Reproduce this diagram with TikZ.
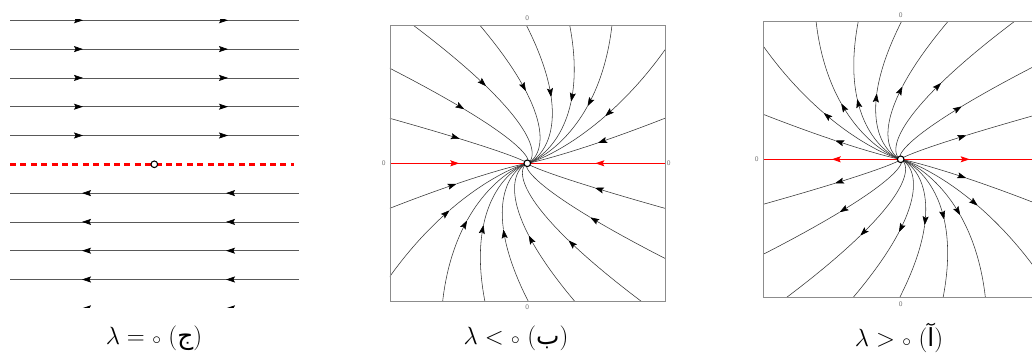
\documentclass[tikz,border=0pt]{standalone}
\usepackage{fontspec}
\newfontfamily\arabicfont[Script=Arabic]{DejaVu Sans}
\usetikzlibrary{arrows.meta}
\tikzset{
  tipk/.tip={Stealth[length=9pt,width=6pt,inset=1.6pt,color=black]},
  tipr/.tip={Stealth[length=9pt,width=6pt,inset=1.6pt,color=red]},
  stream/.style={draw=black!80, line width=0.55pt},
  framebox/.style={draw=black!45, line width=0.6pt},
  redln/.style={draw=red, line width=1pt},
  fixpt/.style={circle, draw=black, fill=white, line width=1.1pt, inner sep=0pt, minimum size=6.6pt},
  zlabel/.style={font=\fontsize{7}{8}\selectfont\sffamily, text=black!55, inner sep=0pt},
  caption/.style={font=\fontsize{24.88}{30}\selectfont, inner sep=0pt},
  hline/.style={draw=black!65, line width=0.7pt},
  dashred/.style={draw=red, line width=2.6pt, dash pattern=on 6pt off 4.4pt},
}
% trajectories of x'=lambda x + y, y'=lambda y  (x/y = C -+ 0.5 ln y)
\newcommand{\instream}[2]{%
  \draw[stream,-{tipk}] plot[domain=5.0:#2, samples=30, variable=\t] ({exp(\t)*(#1-0.5*\t)},{exp(\t)});
  \draw[stream] plot[domain=#2:-1.6, samples=60, variable=\t] ({exp(\t)*(#1-0.5*\t)},{exp(\t)});
}
\newcommand{\outstream}[2]{%
  \draw[stream,-{tipk}] plot[domain=-1.6:#2, samples=60, variable=\t] ({-exp(\t)*(#1-0.5*\t)},{exp(\t)});
  \draw[stream] plot[domain=#2:5.0, samples=30, variable=\t] ({-exp(\t)*(#1-0.5*\t)},{exp(\t)});
}
\newcommand{\pzero}{{\fontsize{19}{20}\selectfont$\circ$}}
\begin{document}
\begin{tikzpicture}[x=1pt,y=-1pt]
\fill[white] (0,0) rectangle (1032,361);
\clip (0,0) rectangle (1032,361);

% ---------- left panel: lambda = 0 ----------
\begin{scope}
  \clip (0,20) rectangle (310,307.5);
  \foreach \i in {0,...,4}{
    \pgfmathsetmacro\yy{20.3+28.8*\i}
    \draw[hline] (10,\yy) -- (298.7,\yy);
    \draw[hline,-{tipk}] (70,\yy) -- (83,\yy);
    \draw[hline,-{tipk}] (215,\yy) -- (228,\yy);
  }
  \foreach \i in {6,...,10}{
    \pgfmathsetmacro\yy{20.3+28.8*\i}
    \draw[hline] (10,\yy) -- (298.7,\yy);
    \draw[hline,-{tipk}] (95,\yy) -- (82,\yy);
    \draw[hline,-{tipk}] (239,\yy) -- (226,\yy);
  }
  \draw[dashred] (10,164.3) -- (294,164.3);
  \node[fixpt] (oc) at (154.3,164.3) {};
\end{scope}

% ---------- middle panel: lambda < 0 ----------
\begin{scope}[shift={(527.3,163.3)}, yscale=-1]
  \begin{scope}
    \clip (-137.5,-137.5) rectangle (137.5,137.5);
    \foreach \r in {0,180}{
      \begin{scope}[rotate=\r]
        \instream{1.638}{4.344}
        \instream{2.12}{4.277}
        \instream{2.457}{4.190}
        \instream{2.771}{4.119}
        \instream{3.077}{4.043}
        \instream{3.579}{3.850}
        \instream{4.959}{3.020}
        \instream{0.830}{3.989}
        \instream{-1.153}{3.199}
      \end{scope}
    }
  \end{scope}
  \coordinate (bL) at (-137.5,0);
  \coordinate (bR) at (137.5,0);
  \coordinate (bLa) at (-68,0);
  \coordinate (bRa) at (68,0);
  \draw[redln] (bL) -- (bR);
  \draw[redln,-{tipr}] (-80,0) -- (bLa);
  \draw[redln,-{tipr}] (80,0) -- (bRa);
  \draw[framebox] (-137.5,-137.5) rectangle (137.5,137.5);
  \node[fixpt] (ob) at (0,0) {};
  \node[zlabel] (bt) at (0,145) {0};
  \node[zlabel] (bb) at (0,-143.5) {0};
  \node[zlabel] (bl) at (-143.5,0) {0};
  \node[zlabel] (br) at (141.5,0) {0};
\end{scope}

% ---------- right panel: lambda > 0 ----------
\begin{scope}[shift={(900.7,159.3)}, yscale=-1]
  \begin{scope}
    \clip (-137.5,-137.5) rectangle (137.5,137.5);
    \foreach \r in {0,180}{
      \begin{scope}[rotate=\r]
        \outstream{3.077}{4.025}
        \outstream{2.771}{4.103}
        \outstream{2.457}{4.190}
        \outstream{2.12}{4.290}
        \outstream{1.638}{4.337}
        \outstream{3.579}{3.839}
        \outstream{4.959}{2.934}
        \outstream{0.830}{3.970}
        \outstream{-1.153}{3.178}
      \end{scope}
    }
  \end{scope}
  \coordinate (aL) at (-137.5,0);
  \coordinate (aR) at (137.5,0);
  \coordinate (aLa) at (-69,0);
  \coordinate (aRa) at (69,0);
  \draw[redln] (aL) -- (aR);
  \draw[redln,-{tipr}] (-57,0) -- (aLa);
  \draw[redln,-{tipr}] (57,0) -- (aRa);
  \draw[framebox] (-137.5,-137.5) rectangle (137.5,137.5);
  \node[fixpt] (oa) at (0,0) {};
  \node[zlabel] (at) at (0,144.3) {0};
  \node[zlabel] (ab) at (0,-144.7) {0};
  \node[zlabel] (al) at (-144,0) {0};
\end{scope}

% ---------- captions ----------
\node[caption] (capc) at (154,338) {$\lambda=$\hspace{0.3em}\pzero\hspace{0.3em}({\arabicfont ج})};
\node[caption] (capb) at (516,338) {$\lambda<$\hspace{0.3em}\pzero\hspace{0.3em}({\arabicfont ب})};
\node[caption] (capa) at (899,338) {$\lambda>$\hspace{0.3em}\pzero\hspace{0.3em}({\arabicfont آ})};
\end{tikzpicture}
\end{document}
